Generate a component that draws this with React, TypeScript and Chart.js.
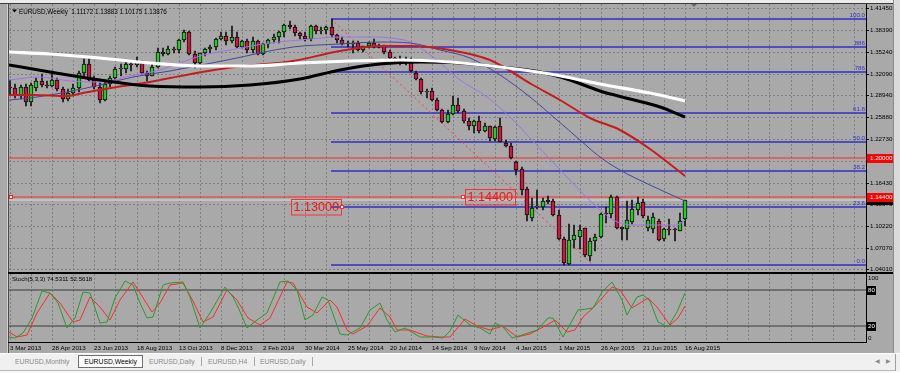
import React, { useEffect, useRef } from 'react';
import { Chart, registerables } from 'chart.js';

Chart.register(...registerables);

// ---------------- data ----------------
const symbolTitle = 'EURUSD,Weekly';
const stochTitle = 'Stoch(5,3,3)';

const dateLabels = ['3 Mar 2013', '28 Apr 2013', '23 Jun 2013', '18 Aug 2013', '13 Oct 2013', '8 Dec 2013', '2 Feb 2014', '30 Mar 2014', '25 May 2014', '20 Jul 2014', '14 Sep 2014', '9 Nov 2014', '4 Jan 2015', '1 Mar 2015', '26 Apr 2015', '21 Jun 2015', '16 Aug 2015'];
const labelEvery = 8; // weeks between date labels
const gridEvery = 4; // weeks between vertical grid lines

const opens = [1.3020, 1.3000, 1.2880, 1.3010, 1.2805, 1.3000, 1.3100, 1.3050, 1.3030, 1.3110, 1.2990, 1.2840, 1.2935, 1.3000, 1.3220, 1.3345, 1.3115, 1.3010, 1.2830, 1.3065, 1.3140, 1.3275, 1.3280, 1.3345, 1.3325, 1.3380, 1.3220, 1.3180, 1.3300, 1.3525, 1.3485, 1.3555, 1.3545, 1.3685, 1.3805, 1.3485, 1.3365, 1.3500, 1.3555, 1.3590, 1.3705, 1.3745, 1.3675, 1.3740, 1.3590, 1.3670, 1.3540, 1.3680, 1.3485, 1.3635, 1.3690, 1.3740, 1.3800, 1.3910, 1.3880, 1.3790, 1.3750, 1.3700, 1.3885, 1.3815, 1.3830, 1.3870, 1.3755, 1.3695, 1.3630, 1.3635, 1.3640, 1.3540, 1.3600, 1.3645, 1.3590, 1.3605, 1.3525, 1.3430, 1.3415, 1.3410, 1.3400, 1.3220, 1.3130, 1.2950, 1.2960, 1.2830, 1.2685, 1.2515, 1.2630, 1.2760, 1.2670, 1.2525, 1.2450, 1.2530, 1.2390, 1.2450, 1.2265, 1.2460, 1.2210, 1.2170, 1.1945, 1.1835, 1.1550, 1.1135, 1.1300, 1.1300, 1.1395, 1.1380, 1.1180, 1.0830, 1.0475, 1.0825, 1.0870, 1.0990, 1.0590, 1.0810, 1.0870, 1.1200, 1.1195, 1.1440, 1.1005, 1.0975, 1.1085, 1.1255, 1.1370, 1.0990, 1.0975, 1.1093, 1.0831, 1.0985, 1.0965, 1.0955, 1.11172];
const highs = [1.3117, 1.3060, 1.3040, 1.3060, 1.3080, 1.3150, 1.3200, 1.3100, 1.3240, 1.3140, 1.3010, 1.2990, 1.3060, 1.3245, 1.3415, 1.3415, 1.3180, 1.3080, 1.3120, 1.3175, 1.3300, 1.3345, 1.3390, 1.3395, 1.3450, 1.3395, 1.3240, 1.3340, 1.3570, 1.3570, 1.3605, 1.3590, 1.3705, 1.3830, 1.3820, 1.3530, 1.3500, 1.3580, 1.3620, 1.3720, 1.3800, 1.3810, 1.3895, 1.3810, 1.3685, 1.3700, 1.3740, 1.3690, 1.3645, 1.3700, 1.3775, 1.3825, 1.3915, 1.3967, 1.3905, 1.3810, 1.3810, 1.3905, 1.3905, 1.3880, 1.3890, 1.3993, 1.3775, 1.3735, 1.3670, 1.3670, 1.3675, 1.3610, 1.3660, 1.3700, 1.3635, 1.3620, 1.3540, 1.3450, 1.3460, 1.3445, 1.3435, 1.3250, 1.3145, 1.2990, 1.3000, 1.2865, 1.2700, 1.2680, 1.2885, 1.2860, 1.2700, 1.2570, 1.2545, 1.2600, 1.2500, 1.2460, 1.2455, 1.2570, 1.2250, 1.2215, 1.1960, 1.1870, 1.1575, 1.1425, 1.1535, 1.1420, 1.1450, 1.1410, 1.1245, 1.0860, 1.1045, 1.1035, 1.1035, 1.1000, 1.0850, 1.0900, 1.1215, 1.1290, 1.1467, 1.1450, 1.1010, 1.1385, 1.1390, 1.1435, 1.1410, 1.1160, 1.1215, 1.1120, 1.0990, 1.1115, 1.0990, 1.1213, 1.13883];
const lows = [1.2900, 1.2860, 1.2850, 1.2750, 1.2745, 1.2955, 1.3020, 1.2995, 1.3010, 1.2955, 1.2800, 1.2820, 1.2890, 1.2950, 1.3180, 1.3100, 1.2990, 1.2790, 1.2810, 1.3010, 1.3120, 1.3180, 1.3220, 1.3250, 1.3310, 1.3200, 1.3105, 1.3170, 1.3290, 1.3465, 1.3475, 1.3500, 1.3500, 1.3660, 1.3480, 1.3295, 1.3340, 1.3455, 1.3510, 1.3550, 1.3690, 1.3625, 1.3650, 1.3575, 1.3570, 1.3510, 1.3510, 1.3480, 1.3475, 1.3580, 1.3640, 1.3645, 1.3735, 1.3855, 1.3750, 1.3705, 1.3670, 1.3675, 1.3780, 1.3780, 1.3770, 1.3740, 1.3650, 1.3615, 1.3585, 1.3503, 1.3530, 1.3520, 1.3580, 1.3575, 1.3575, 1.3490, 1.3420, 1.3365, 1.3335, 1.3330, 1.3235, 1.3110, 1.2920, 1.2860, 1.2820, 1.2670, 1.2500, 1.2500, 1.2615, 1.2645, 1.2500, 1.2395, 1.2360, 1.2360, 1.2375, 1.2245, 1.2245, 1.2220, 1.2160, 1.1985, 1.1755, 1.1460, 1.1100, 1.1100, 1.1260, 1.1255, 1.1340, 1.1170, 1.0825, 1.0465, 1.0462, 1.0710, 1.0695, 1.0575, 1.0520, 1.0660, 1.0850, 1.1060, 1.1140, 1.0985, 1.0820, 1.0820, 1.1050, 1.1180, 1.1130, 1.0955, 1.0915, 1.0810, 1.0810, 1.0890, 1.0810, 1.0950, 1.10175];
const closes = [1.3005, 1.2905, 1.3010, 1.2805, 1.3045, 1.3100, 1.3050, 1.3030, 1.3110, 1.2990, 1.2840, 1.2935, 1.3000, 1.3220, 1.3345, 1.3115, 1.3010, 1.2830, 1.3065, 1.3140, 1.3275, 1.3280, 1.3345, 1.3325, 1.3380, 1.3220, 1.3180, 1.3300, 1.3525, 1.3485, 1.3555, 1.3545, 1.3685, 1.3805, 1.3485, 1.3365, 1.3500, 1.3555, 1.3590, 1.3705, 1.3745, 1.3675, 1.3740, 1.3590, 1.3670, 1.3540, 1.3680, 1.3485, 1.3635, 1.3690, 1.3740, 1.3800, 1.3910, 1.3880, 1.3790, 1.3750, 1.3700, 1.3885, 1.3815, 1.3830, 1.3870, 1.3755, 1.3695, 1.3630, 1.3635, 1.3640, 1.3540, 1.3600, 1.3645, 1.3590, 1.3605, 1.3525, 1.3430, 1.3415, 1.3410, 1.3400, 1.3240, 1.3130, 1.2950, 1.2960, 1.2830, 1.2685, 1.2515, 1.2630, 1.2760, 1.2670, 1.2525, 1.2450, 1.2525, 1.2390, 1.2450, 1.2285, 1.2445, 1.2230, 1.2170, 1.1995, 1.1825, 1.1540, 1.1180, 1.1275, 1.1305, 1.1380, 1.1370, 1.1180, 1.0830, 1.0495, 1.0820, 1.0890, 1.0960, 1.0600, 1.0810, 1.0870, 1.1200, 1.1195, 1.1440, 1.0990, 1.0975, 1.1110, 1.1260, 1.1350, 1.1165, 1.1108, 1.1145, 1.0821, 1.0974, 1.0965, 1.0960, 1.1093, 1.13876];

// moving averages read at sample weeks: [week index, price]
const whiteMA = [[-0.19, 1.3518], [7.59, 1.3489], [17.07, 1.3432], [26.55, 1.3367], [36.03, 1.3324], [45.52, 1.3324], [55.0, 1.3360], [64.48, 1.3396], [73.96, 1.3403], [83.44, 1.3375], [92.93, 1.3303], [102.41, 1.3202], [111.89, 1.3059], [121.37, 1.2930], [128, 1.2808]];
const blackMA = [[-0.19, 1.3332], [7.59, 1.3231], [17.07, 1.3117], [26.55, 1.3030], [36.03, 1.3016], [45.52, 1.3045], [55.0, 1.3131], [62.58, 1.3260], [70.17, 1.3346], [77.76, 1.3375], [85.34, 1.3360], [92.93, 1.3310], [100.51, 1.3231], [106.2, 1.3117], [111.89, 1.2959], [117.58, 1.2844], [123.27, 1.2729], [128, 1.2585]];
const redMA = [[-0.19, 1.2901], [4.36, 1.2901], [10.81, 1.2880], [13.84, 1.2930], [20.29, 1.3016], [26.55, 1.3088], [30.34, 1.3145], [41.15, 1.3289], [53.67, 1.3389], [62.58, 1.3532], [70.17, 1.3604], [75.86, 1.3604], [83.44, 1.3547], [91.03, 1.3403], [99.19, 1.3045], [104.3, 1.2829], [110.0, 1.2571], [115.7, 1.2399], [121.37, 1.2126], [128, 1.1739]];
const blueMA = [[-0.19, 1.2829], [3.79, 1.2858], [10.81, 1.2944], [17.07, 1.3045], [23.33, 1.3159], [30.34, 1.3245], [41.15, 1.3403], [53.67, 1.3590], [62.58, 1.3633], [70.17, 1.3662], [75.86, 1.3647], [81.55, 1.3547], [87.24, 1.3432], [92.93, 1.3188], [98.62, 1.2872], [103.7, 1.2543], [108.1, 1.2256], [111.89, 1.2012], [115.68, 1.1825], [121.37, 1.1610], [128, 1.1380]];
const purpleMA = [[-0.19, 1.3116], [5.69, 1.3159], [11.38, 1.3102], [17.07, 1.3088], [22.76, 1.3174], [28.45, 1.3260], [36.03, 1.3461], [41.72, 1.3547], [49.31, 1.3647], [55.0, 1.3690], [62.58, 1.3733], [68.65, 1.3733], [72.07, 1.3719], [75.86, 1.3662], [80.22, 1.3446], [85.34, 1.3116], [90.46, 1.2872], [95.39, 1.2543], [99.0, 1.2256], [105.25, 1.1753], [111.89, 1.1251], [114.36, 1.1108], [118.15, 1.1036], [126.5, 1.1036], [128, 1.1108]];

// stochastic (5,3,3): [week index, value]
const stochK = [[-0.2, 2], [1, 0], [2.5, 8], [4.1, 33], [6, 79], [7.6, 75], [9.1, 58], [10.8, 16], [12.3, 33], [13.8, 77], [15.2, 75], [17.1, 25], [18.4, 27], [19.9, 67], [21.8, 96], [23.3, 89], [24.7, 58], [26, 33], [27.1, 35], [29, 89], [30.3, 92], [32.8, 93], [34.1, 69], [36, 16], [37.9, 42], [40.8, 86], [42.3, 69], [43.2, 52], [44.9, 16], [46.8, 30], [48.7, 42], [51.2, 94], [52.7, 96], [54.4, 80], [55.9, 30], [57.5, 38], [59.2, 69], [60.3, 63], [62.6, 7], [63.9, 4], [66.4, 16], [68.3, 47], [70.2, 59], [71.5, 30], [73, 10], [74.9, 16], [77.8, 1], [80.2, 1], [82.1, 0], [83.4, 12], [85, 38], [87.2, 21], [89.1, 16], [91, 6], [92, 25], [93.5, 18], [95.2, 0], [97.1, 4], [99.9, 13], [102, 34], [103, 34], [104.9, 1], [107.7, 47], [109.4, 49], [110.6, 50], [112.3, 77], [114.2, 93], [116.1, 63], [117, 38], [118.9, 69], [120, 72], [121.4, 61], [122.9, 27], [124.8, 18], [126.5, 44], [128, 74.5311]];
const stochD = [[-0.2, 10], [1.3, 1], [3.2, 5], [5.1, 42], [7.6, 75], [9.5, 58], [11.9, 27], [13.3, 30], [15.2, 69], [17.1, 52], [19, 30], [20.9, 64], [23.3, 93], [24.7, 75], [26.9, 44], [28.4, 58], [30.3, 89], [32.8, 92], [34.7, 61], [36.6, 27], [38.5, 35], [41.2, 80], [43, 64], [45.1, 33], [47.4, 21], [49.3, 33], [52.5, 94], [53.7, 92], [56.3, 52], [58.2, 41], [60.7, 64], [62, 52], [63.9, 13], [65, 7], [67.7, 19], [70.2, 50], [72.1, 35], [73.4, 13], [75.9, 13], [79.1, 3], [81.5, 2], [83.4, 2], [86.3, 31], [88.6, 19], [91, 13], [93.5, 20], [96.2, 1], [98.6, 7], [101.8, 21], [103.4, 30], [105.6, 10], [107.2, 13], [108.7, 35], [110.6, 50], [112.5, 69], [114.2, 86], [115.7, 80], [118, 50], [119.5, 58], [121, 66], [122.7, 52], [125.2, 21], [126.7, 33], [128, 52.5618]];
const stochLevels = [20, 80];
const stochTicks = [0, 20, 80, 100];

const priceTicks = [1.4145, 1.3839, 1.3524, 1.3209, 1.2894, 1.2588, 1.2273, 1.1958, 1.1643, 1.1337, 1.1022, 1.0707, 1.0401];

const fibHigh = 1.3993;
const fibLow = 1.0462;
const fibLevels = [100, 88.6, 78.6, 61.8, 50, 38.2, 23.6, 0];
const fibNames = ['100.0', '886', '786', '61.8', '50.0', '38.2', '23.6', '0.0'];
const fibStartWeek = 60.9;
const fibEndWeek = 110.6;

const levelLines = [1.2, 1.144];
const notes = [
  { text: '1.14400', week: 85.9, price: 1.144, side: 'right' },
  { text: '1.13000', week: 62.9, price: 1.1295, side: 'left' },
];

// ---------------- styling ----------------
const X_MIN = -0.19;
const X_MAX = 162.3;
const Y_MIN = 1.03617;
const Y_MAX = 1.42067;
const S_MIN = -7.2;
const S_MAX = 107.2;
const FONT = '"Liberation Sans", Arial, sans-serif';
const GRID = '#808080';
const UP = '#22cc22';
const DOWN = '#d3143c';

const gridTicks: number[] = [];
for (let v = 0; v <= X_MAX; v += gridEvery) gridTicks.push(v);

function lineDs(pts: number[][], color: string, width: number, order: number, extra: any = {}) {
  return {
    type: 'line',
    data: pts.map((p) => ({ x: p[0], y: p[1] })),
    borderColor: color,
    borderWidth: width,
    pointRadius: 0,
    pointHoverRadius: 0,
    fill: false,
    tension: 0.4,
    cubicInterpolationMode: 'monotone',
    order,
    ...extra,
  };
}

function xScale(extra: any) {
  return {
    type: 'linear',
    min: X_MIN,
    max: X_MAX,
    bounds: 'data',
    offset: false,
    alignToPixels: true,
    grid: { color: GRID, lineWidth: 1, drawTicks: false, offset: false },
    border: { display: false, dash: [2, 2] },
    afterBuildTicks: (s: any) => {
      s.ticks = gridTicks.map((v) => ({ value: v }));
    },
    ...extra,
  };
}

export default function App() {
  const mainRef = useRef<HTMLCanvasElement>(null);
  const stochRef = useRef<HTMLCanvasElement>(null);

  useEffect(() => {
    const n = closes.length;
    const weeks = closes.map((_, i) => i);
    const fibPrices = fibLevels.map((lv) => fibLow + ((fibHigh - fibLow) * lv) / 100);
    const bid = closes[n - 1];

    const mainDecor = {
      id: 'mainDecor',
      afterDraw(chart: any) {
        const { ctx, chartArea: ca, scales } = chart;
        const xs = scales.x;
        const ys = scales.y;
        ctx.save();
        // separator under main panel
        ctx.fillStyle = '#000';
        ctx.fillRect(8, ca.bottom, 885, 1);
        // fib labels
        ctx.font = `6.2px ${FONT}`;
        ctx.fillStyle = '#3434c8';
        ctx.textAlign = 'right';
        ctx.textBaseline = 'bottom';
        fibPrices.forEach((p, k) => {
          ctx.fillText(fibNames[k], ca.right - 1, ys.getPixelForValue(p) - 0.5);
        });
        // hline anchor marker
        const my = ys.getPixelForValue(levelLines[1]);
        ctx.fillStyle = '#fff';
        ctx.fillRect(ca.left + 0.5, my - 1.5, 3, 3);
        ctx.strokeStyle = '#ff2020';
        ctx.lineWidth = 1;
        ctx.strokeRect(ca.left + 0.5, my - 1.5, 3, 3);
        // text notes
        notes.forEach((t) => {
          const ax = xs.getPixelForValue(t.week);
          const ay = ys.getPixelForValue(t.price);
          ctx.font = `12.6px ${FONT}`;
          const w = ctx.measureText(t.text).width + 4;
          const h = 15.5;
          const bx = t.side === 'right' ? ax + 2 : ax - 1 - w;
          ctx.strokeStyle = '#ff3030';
          ctx.lineWidth = 1;
          ctx.strokeRect(Math.round(bx) + 0.5, Math.round(ay - h / 2) + 0.5, Math.round(w), h);
          ctx.fillStyle = '#ff1010';
          ctx.textAlign = 'left';
          ctx.textBaseline = 'middle';
          ctx.fillText(t.text, Math.round(bx) + 2.5, ay + 1);
          ctx.fillStyle = '#fff';
          ctx.fillRect(ax - 1.5, ay - 1.5, 3, 3);
          ctx.strokeRect(ax - 1.5, ay - 1.5, 3, 3);
        });
        // price boxes on axis
        const box = (price: number, bg: string, text: string) => {
          const py = ys.getPixelForValue(price);
          ctx.fillStyle = bg;
          ctx.fillRect(ca.right + 1, Math.round(py - 4.5), 26, 9);
          ctx.fillStyle = '#fff';
          ctx.font = `6.2px ${FONT}`;
          ctx.textAlign = 'left';
          ctx.textBaseline = 'middle';
          ctx.fillText(text, ca.right + 4, py + 0.5);
        };
        box(bid, '#000', bid.toFixed(5));
        box(levelLines[1], '#ff0000', levelLines[1].toFixed(5));
        box(levelLines[0], '#ff0000', levelLines[0].toFixed(5));
        // chart shift marker
        ctx.fillStyle = '#6a6a6a';
        ctx.beginPath();
        ctx.moveTo(691, ca.top);
        ctx.lineTo(697, ca.top);
        ctx.lineTo(694, ca.top + 3);
        ctx.closePath();
        ctx.fill();
        // header
        ctx.fillStyle = '#000';
        ctx.beginPath();
        ctx.moveTo(12, 9.6);
        ctx.lineTo(17, 9.6);
        ctx.lineTo(14.5, 12.6);
        ctx.closePath();
        ctx.fill();
        ctx.font = `6.3px ${FONT}`;
        ctx.textAlign = 'left';
        ctx.textBaseline = 'middle';
        const hdr = `${symbolTitle}  ${opens[n - 1].toFixed(5)} ${highs[n - 1].toFixed(5)} ${lows[n - 1].toFixed(5)} ${closes[n - 1].toFixed(5)}`;
        ctx.fillText(hdr, 19, 11.8);
        ctx.restore();
      },
    };

    const main = new Chart(mainRef.current as any, {
      type: 'bar',
      data: {
        datasets: [
          lineDs(whiteMA, '#ffffff', 3.2, 0),
          lineDs(blackMA, '#000000', 3, 1),
          lineDs(redMA, '#c81c1c', 2, 2),
          lineDs(blueMA, '#46469a', 1, 3),
          lineDs(purpleMA, '#a272e4', 1, 4),
          {
            type: 'bar',
            data: weeks.map((i) => ({ x: i, y: [Math.min(opens[i], closes[i]), Math.max(opens[i], closes[i])] })),
            backgroundColor: (c: any) => (closes[c.dataIndex] >= opens[c.dataIndex] ? UP : DOWN),
            borderColor: '#111',
            borderWidth: 1,
            borderSkipped: false,
            barThickness: 4,
            minBarLength: 1,
            grouped: false,
            order: 5,
          },
          {
            type: 'bar',
            data: weeks.map((i) => ({ x: i, y: [lows[i], highs[i]] })),
            backgroundColor: '#111',
            barThickness: 1,
            grouped: false,
            order: 6,
          },
          ...fibPrices.map((p) =>
            lineDs([[fibStartWeek, p], [X_MAX, p]], '#3030c8', 1.3, 10, { tension: 0 })
          ),
          ...levelLines.map((p) => lineDs([[X_MIN, p], [X_MAX, p]], '#ff2a2a', 1.2, 11, { tension: 0 })),
          lineDs([[X_MIN, bid], [X_MAX, bid]], '#c2c2c2', 2, 12, { tension: 0 }),
          lineDs([[fibStartWeek, fibHigh], [fibEndWeek, fibLow]], '#ff3a3a', 1, 9, { tension: 0, borderDash: [2, 3] }),
        ] as any,
      },
      options: {
        responsive: false,
        animation: false,
        devicePixelRatio: 1,
        events: [],
        layout: { padding: { left: 9, top: 4, right: 0, bottom: 2 } },
        plugins: { legend: { display: false }, tooltip: { enabled: false } },
        scales: {
          x: xScale({
            ticks: { display: false },
            afterFit: (s: any) => {
              s.height = 0;
              s.paddingLeft = 0;
              s.paddingRight = 0;
            },
          }),
          y: {
            type: 'linear',
            position: 'right',
            min: Y_MIN,
            max: Y_MAX,
            bounds: 'data',
            beginAtZero: false,
            alignToPixels: true,
            grid: { color: GRID, lineWidth: 1, drawTicks: true, tickLength: 3, tickColor: '#000', tickWidth: 1 },
            border: { display: true, color: '#000', width: 1, dash: [2, 2] },
            ticks: {
              autoSkip: false,
              padding: 1,
              color: '#000',
              font: { family: FONT, size: 6.2 },
              callback: (v: any) => Number(v).toFixed(5),
            },
            afterBuildTicks: (s: any) => {
              s.ticks = priceTicks.map((v) => ({ value: v }));
            },
            afterFit: (s: any) => {
              s.width = 34;
              s.paddingTop = 0;
              s.paddingBottom = 0;
            },
          },
        } as any,
      },
      plugins: [mainDecor],
    } as any);

    const stochDecor = {
      id: 'stochDecor',
      afterDraw(chart: any) {
        const { ctx, chartArea: ca, scales } = chart;
        const ys = scales.y;
        ctx.save();
        ctx.fillStyle = '#000';
        ctx.fillRect(8, ca.top - 1, 885, 1);
        ctx.fillRect(8, ca.bottom, ca.right - 8, 1);
        stochLevels.forEach((lv) => {
          const py = ys.getPixelForValue(lv);
          ctx.fillStyle = '#000';
          ctx.fillRect(ca.right + 1, Math.round(py - 4.5), 9, 9);
          ctx.fillStyle = '#fff';
          ctx.font = `6.2px ${FONT}`;
          ctx.textAlign = 'left';
          ctx.textBaseline = 'middle';
          ctx.fillText(String(lv), ca.right + 2, py + 0.5);
        });
        ctx.fillStyle = '#000';
        ctx.font = `6.1px ${FONT}`;
        ctx.textAlign = 'left';
        ctx.textBaseline = 'middle';
        const k = stochK[stochK.length - 1][1];
        const d = stochD[stochD.length - 1][1];
        ctx.fillText(`${stochTitle} ${k.toFixed(4)} ${d.toFixed(4)}`, 12, ca.top + 5.4);
        ctx.restore();
      },
    };

    const stoch = new Chart(stochRef.current as any, {
      type: 'line',
      data: {
        datasets: [
          lineDs(stochK, '#2a9a2a', 1, 1, { tension: 0, cubicInterpolationMode: 'default' }),
          lineDs(stochD, '#ff2a2a', 1, 2, { tension: 0, cubicInterpolationMode: 'default' }),
          ...stochLevels.map((lv) => lineDs([[X_MIN, lv], [X_MAX, lv]], '#3a3a3a', 1, 5, { tension: 0 })),
        ] as any,
      },
      options: {
        responsive: false,
        animation: false,
        devicePixelRatio: 1,
        events: [],
        layout: { padding: { left: 9, top: 2, right: 0, bottom: 0 } },
        plugins: { legend: { display: false }, tooltip: { enabled: false } },
        scales: {
          x: xScale({
            ticks: {
              autoSkip: false,
              maxRotation: 0,
              minRotation: 0,
              align: 'start',
              padding: 3,
              color: '#000',
              font: { family: FONT, size: 6.2 },
              callback: (v: any) => {
                const w = Number(v);
                if (w % labelEvery !== 0) return '';
                return dateLabels[w / labelEvery] ?? '';
              },
            },
            afterFit: (s: any) => {
              s.height = 12;
              s.paddingLeft = 0;
              s.paddingRight = 0;
            },
          }),
          y: {
            type: 'linear',
            position: 'right',
            min: S_MIN,
            max: S_MAX,
            bounds: 'data',
            alignToPixels: true,
            grid: { display: false, drawTicks: false },
            border: { display: true, color: '#000', width: 1 },
            ticks: {
              autoSkip: false,
              padding: 2,
              color: '#000',
              font: { family: FONT, size: 6.2 },
              callback: (v: any) => (stochLevels.includes(Number(v)) ? '' : String(v)),
            },
            afterBuildTicks: (s: any) => {
              s.ticks = stochTicks.map((v) => ({ value: v }));
            },
            afterFit: (s: any) => {
              s.width = 34;
              s.paddingTop = 0;
              s.paddingBottom = 0;
            },
          },
        } as any,
      },
      plugins: [stochDecor],
    } as any);

    return () => {
      main.destroy();
      stoch.destroy();
    };
  }, []);

  const abs = (s: any) => ({ position: 'absolute', ...s });
  const tabText = { fontSize: '6.8px', lineHeight: '13px', fontFamily: FONT, whiteSpace: 'nowrap' };

  return (
    <div style={{ position: 'fixed', left: 0, top: 0, width: 900, height: 373, background: '#a9a9a9', overflow: 'hidden' } as any}>
      <div style={abs({ left: 0, top: 0, width: 900, height: 3, background: '#ebebeb' })} />
      <div style={abs({ left: 0, top: 3, width: 893, height: 1, background: '#3c3c3c' })} />
      <div style={abs({ left: 7, top: 4, width: 1, height: 349, background: '#d2d2d2' })} />
      <div style={abs({ left: 8, top: 4, width: 1, height: 349, background: '#4a4a4a' })} />
      <div style={abs({ left: 893, top: 0, width: 7, height: 353, background: '#dadada', borderLeft: '1px solid #8a8a8a', boxSizing: 'border-box' })} />
      <canvas ref={mainRef} width={900} height={274} style={abs({ left: 0, top: 0, width: 900, height: 274 })} />
      <canvas ref={stochRef} width={900} height={82} style={abs({ left: 0, top: 272, width: 900, height: 82 })} />
      <div style={abs({ left: 0, top: 353, width: 900, height: 20, background: '#f0f0f0', borderTop: '1px solid #ffffff', boxSizing: 'border-box' })}>
        <div style={abs({ left: 15, top: 1, color: '#8a8a8a', ...tabText })}>EURUSD,Monthly</div>
        <div style={abs({ left: 78, top: 1, width: 65, height: 13, background: '#ffffff', border: '1px solid #6e6e6e', boxSizing: 'border-box', color: '#000', textAlign: 'center', ...tabText, lineHeight: '11px' })}>EURUSD,Weekly</div>
        <div style={abs({ left: 149, top: 1, color: '#8a8a8a', ...tabText })}>EURUSD,Daily</div>
        <div style={abs({ left: 201, top: 3, width: 1, height: 9, background: '#a8a8a8' })} />
        <div style={abs({ left: 208, top: 1, color: '#8a8a8a', ...tabText })}>EURUSD,H4</div>
        <div style={abs({ left: 254, top: 3, width: 1, height: 9, background: '#a8a8a8' })} />
        <div style={abs({ left: 260, top: 1, color: '#8a8a8a', ...tabText })}>EURUSD,Daily</div>
        <div style={abs({ left: 312, top: 3, width: 1, height: 9, background: '#a8a8a8' })} />
        <div style={abs({ left: 875, top: 1, color: '#8a8a8a', fontSize: '6px', lineHeight: '13px', fontFamily: FONT })}>◀</div>
        <div style={abs({ left: 886, top: 1, color: '#8a8a8a', fontSize: '6px', lineHeight: '13px', fontFamily: FONT })}>▶</div>
        <div style={abs({ left: 895, top: 0, width: 1, height: 20, background: '#a0a0a0' })} />
        <div style={abs({ left: 0, top: 16, width: 895, height: 1, background: '#b8b8b8' })} />
        <div style={abs({ left: 0, top: 17, width: 900, height: 3, background: '#fafafa' })} />
      </div>
    </div>
  );
}
